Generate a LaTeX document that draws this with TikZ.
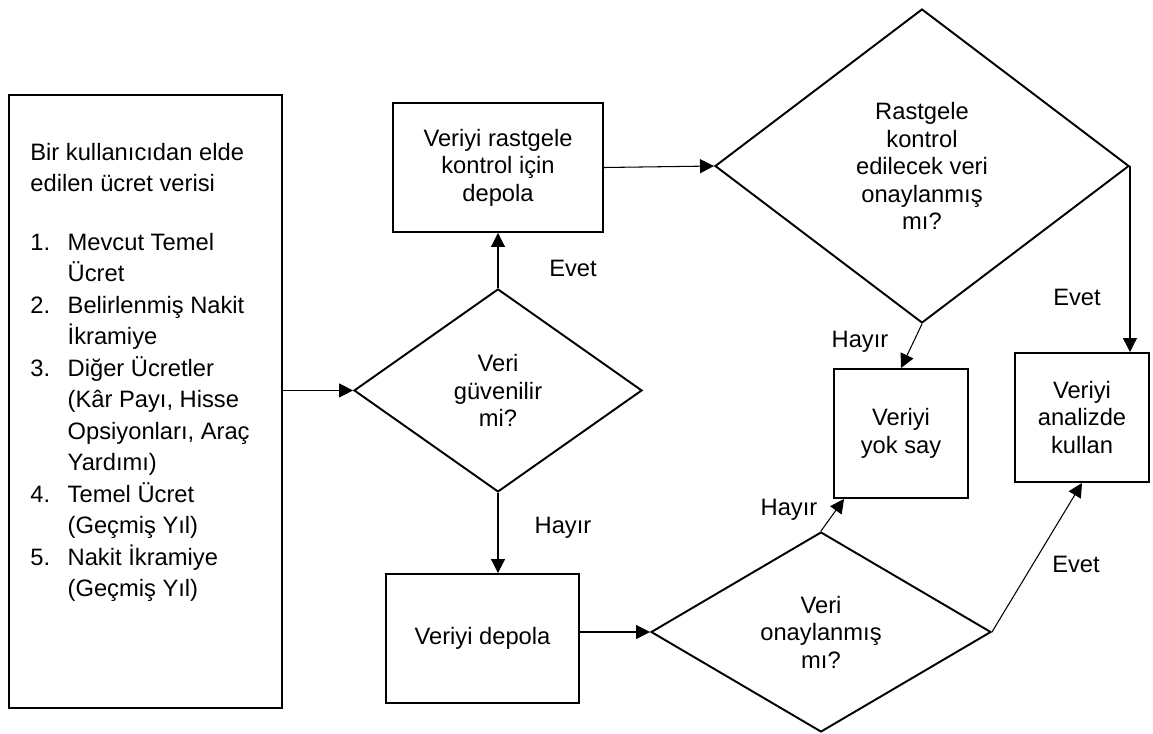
\documentclass[tikz,border=0pt]{standalone}
\usepackage{fontspec}
\setmainfont{Liberation Sans}
\usetikzlibrary{positioning,calc,shapes.geometric,arrows.meta}

% numbered lines of the input box: number column + hanging text
\newcommand{\numitem}[1]{\makebox[7.46mm][l]{#1}}
\newcommand{\numcont}{\hspace*{7.46mm}}

\begin{document}
\begin{tikzpicture}[
    font=\fontsize{13.5pt}{15.6pt}\selectfont,
    box/.style={draw, line width=1.1pt, align=center, inner sep=0pt,
                minimum width=26.8mm, minimum height=25.8mm},
    dec/.style={draw, diamond, line width=1.1pt, align=center, inner sep=0pt},
    flow/.style={line width=0.6pt, -{Triangle[length=2.8mm, width=2.8mm]}},
    lbl/.style={inner sep=0pt},
  ]
  \useasboundingbox (0,0) rectangle (230.6mm,-146.6mm);

  % ---------------------------------------------------------------
  % Input: the pay data of one user
  % ---------------------------------------------------------------
  \node[box, minimum width=54.6mm, minimum height=122.6mm] (src)
    at (29.1mm,-80.3mm) {};
  \node[anchor=north west, inner sep=0pt, align=left,
        font=\fontsize{13.5pt}{17.9pt}\selectfont]
    (srctext) at ($(src.north west)+(4.4mm,-9.7mm)$)
    {Bir kullanıcıdan elde\\
     edilen ücret verisi\\[5.5mm]
     \numitem{1.}Mevcut Temel\\
     \numcont Ücret\\
     \numitem{2.}Belirlenmiş Nakit\\
     \numcont İkramiye\\
     \numitem{3.}Diğer Ücretler\\
     \numcont (Kâr Payı, Hisse\\
     \numcont Opsiyonları, Araç\\
     \numcont Yardımı)\\
     \numitem{4.}Temel Ücret\\
     \numcont (Geçmiş Yıl)\\
     \numitem{5.}Nakit İkramiye\\
     \numcont (Geçmiş Yıl)};

  % ---------------------------------------------------------------
  % First check, then the two store boxes
  % ---------------------------------------------------------------
  \node[box, minimum width=42mm] (keep) at (99.6mm,-33.5mm)
    {Veriyi rastgele\\kontrol için\\depola};
  \node[dec, minimum width=57.6mm, minimum height=40.6mm,
        below=11mm of keep] (reliable) {Veri\\güvenilir\\mi?};
  \node[box, minimum width=38.6mm] (store) at (96.5mm,-127.7mm)
    {Veriyi depola};

  % ---------------------------------------------------------------
  % Second checks and the two outcomes
  % ---------------------------------------------------------------
  \node[dec, minimum width=82.8mm, minimum height=62.8mm] (spot)
    at (184.4mm,-33.2mm)
    {Rastgele\\kontrol\\edilecek veri\\onaylanmış\\mı?};
  \node[dec, minimum width=68mm, minimum height=40mm] (approved)
    at (164.2mm,-126.4mm) {Veri\\onaylanmış\\mı?};
  \node[box] (ignore) at (180.2mm,-86.7mm) {Veriyi\\yok say};
  \node[box] (use) at (216.4mm,-83.5mm) {Veriyi\\analizde\\kullan};

  % connectors
  \draw[flow] (src.east |- reliable.west) -- (reliable.west);
  \draw[flow] (reliable.north) -- (keep.south);
  \draw[flow] (reliable.south) -- (reliable.south |- store.north);
  \draw[flow] (keep.east) -- (spot.west);
  \draw[flow] (store.east |- approved.west) -- (approved.west);
  \draw[flow] (spot.south) -- (ignore.north);
  \draw[flow] (spot.east) -- (spot.east |- use.north);
  \draw[flow] (approved.north) -- ([xshift=2.2mm]ignore.south west);
  \draw[flow] (approved.east) -- (use.south);

  % answer labels
  \node[lbl] (yes1) at (114.6mm,-53.6mm) {Evet};
  \node[lbl] (no1) at (112.6mm,-105.6mm) {Hayır};
  \node[lbl] (no2) at (172.0mm,-68.4mm) {Hayır};
  \node[lbl] (yes2) at (215.4mm,-59.4mm) {Evet};
  \node[lbl] (no3) at (157.8mm,-102.0mm) {Hayır};
  \node[lbl] (yes3) at (215.2mm,-112.8mm) {Evet};
\end{tikzpicture}
\end{document}
